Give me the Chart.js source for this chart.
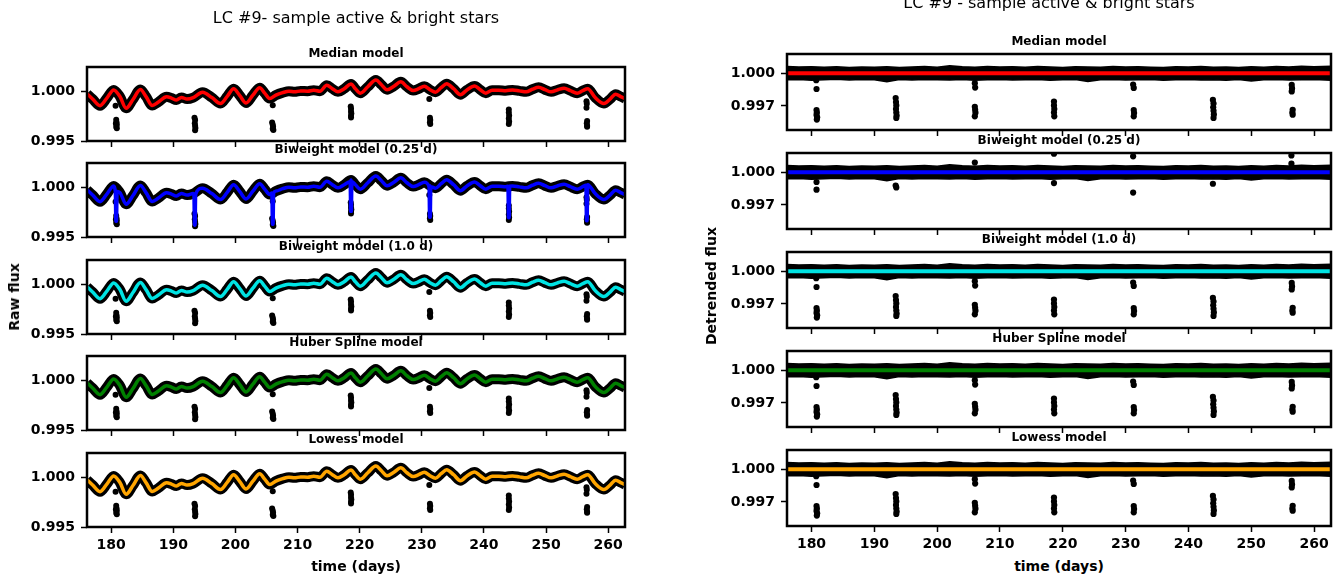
<!DOCTYPE html>
<html>
<head>
<meta charset="utf-8">
<script src="https://cdn.jsdelivr.net/npm/chart.js@4.4.0/dist/chart.umd.min.js"></script>
<style>
  html, body { margin: 0; padding: 0; background: #fff; }
  #fig { position: relative; width: 1344px; height: 581px; overflow: hidden; background: #fff; font-family: "DejaVu Sans", sans-serif; color: #000; }
  #fig canvas { position: absolute; }
  .txt { position: absolute; white-space: nowrap; line-height: 1; transform: translate(-50%, -50%); }
  .sup { font-size: 16px; font-weight: normal; }
  .ptitle { font-size: 12px; font-weight: bold; }
  .axlab { font-size: 14px; font-weight: bold; }
  .rot { transform: translate(-50%, -50%) rotate(-90deg); }
</style>
</head>
<body>
<div id="fig"></div>
<script>
// ---- time axis ----
const X_MIN = 176.1;
const X_MAX = 262.7;
const xTickValues = [180, 190, 200, 210, 220, 230, 240, 250, 260];
const rawYTicks = [0.995, 1.000];
const detrendedYTicks = [0.997, 1.000];

// ---- panel titles and model colours ----
const panelTitles = ['Median model', 'Biweight model (0.25 d)', 'Biweight model (1.0 d)', 'Huber Spline model', 'Lowess model'];
const modelColors = ['#ff0000', '#0000ff', '#00e3e3', '#008000', '#ffa500'];

// ---- raw light curve (stellar variability trend) ----
const times = [176.1, 177.0, 178.2, 179.3, 180.4, 181.4, 182.4, 183.5, 184.7, 185.6, 186.6, 187.6, 188.9, 189.7, 190.5, 191.3, 192.2, 193.2, 194.7, 196.2, 197.6, 198.7, 199.7, 200.7, 201.7, 202.8, 203.9, 204.7, 205.5, 206.5, 207.6, 208.6, 209.5, 210.5, 211.6, 212.6, 213.6, 214.7, 215.6, 216.5, 217.5, 218.6, 219.3, 220.1, 221.3, 222.6, 223.5, 224.4, 225.5, 226.6, 227.6, 228.6, 229.5, 230.4, 231.3, 232.2, 233.1, 234.0, 235.1, 236.2, 237.3, 238.5, 239.4, 240.3, 241.3, 242.4, 243.5, 244.6, 245.7, 246.8, 247.8, 248.8, 249.8, 250.8, 251.9, 252.9, 253.9, 255.0, 255.9, 256.7, 257.9, 259.3, 260.3, 261.2, 262.0, 262.7];
const rawFlux = [0.99978, 0.99925, 0.99858, 0.99935, 1.00018, 0.99950, 0.99832, 0.99920, 1.00022, 0.99950, 0.99860, 0.99895, 0.99948, 0.99935, 0.99915, 0.99942, 0.99925, 0.99940, 0.99995, 0.99940, 0.99880, 0.99955, 1.00030, 0.99960, 0.99885, 0.99965, 1.00040, 0.99985, 0.99930, 0.99965, 0.99990, 1.00005, 0.99998, 1.00008, 1.00005, 1.00015, 1.00005, 1.00065, 1.00030, 0.99998, 1.00030, 1.00078, 1.00030, 0.99985, 1.00050, 1.00118, 1.00070, 1.00020, 1.00055, 1.00100, 1.00050, 1.00012, 1.00030, 1.00055, 1.00020, 0.99995, 1.00040, 1.00080, 1.00030, 0.99970, 1.00020, 1.00058, 1.00020, 0.99985, 1.00015, 1.00015, 1.00010, 1.00018, 1.00008, 0.99998, 1.00025, 1.00045, 1.00020, 0.99998, 1.00020, 1.00035, 1.00010, 0.99985, 1.00010, 1.00030, 0.99940, 0.99880, 0.99925, 0.99975, 0.99950, 0.99930];

// ---- in-transit points, raw flux ----
const transitTimes = [180.7, 180.8, 180.85, 180.9, 180.8, 180.9, 180.75, 193.4, 193.5, 193.45, 193.5, 193.55, 193.5, 206.0, 205.9, 206.0, 206.05, 206.0, 206.1, 218.55, 218.6, 218.6, 218.65, 218.6, 218.6, 231.2, 231.3, 231.35, 231.3, 231.35, 244.0, 244.0, 244.05, 244.0, 244.05, 244.0, 256.5, 256.55, 256.5, 256.6, 256.55, 256.6, 256.6];
const transitRawFlux = [0.99858, 0.99715, 0.99690, 0.99665, 0.99645, 0.99628, 0.99678, 0.99735, 0.99712, 0.99680, 0.99655, 0.99632, 0.99608, 0.99862, 0.99688, 0.99665, 0.99645, 0.99625, 0.99612, 0.99850, 0.99828, 0.99800, 0.99778, 0.99755, 0.99738, 0.99925, 0.99735, 0.99712, 0.99690, 0.99672, 0.99818, 0.99790, 0.99758, 0.99728, 0.99698, 0.99672, 0.99902, 0.99878, 0.99838, 0.99702, 0.99680, 0.99655, 0.99645];

// ---- short-window biweight dips into the transits ----
const dipTimes = [180.8, 193.45, 206.0, 218.6, 231.3, 244.0, 256.55];
const dipBaseline = [0.99960, 0.99935, 0.99945, 1.00060, 1.00010, 1.00015, 1.00025];
const dipDepth = [0.99660, 0.99620, 0.99630, 0.99760, 0.99700, 0.99695, 0.99665];

// ---- detrended light curve: scatter envelope about unity ----
const bandTimes = [176.1, 178, 180, 182, 184, 186, 188, 190, 192, 194, 196, 198, 200, 202, 204, 206, 208, 210, 212, 214, 216, 218, 220, 222, 224, 226, 228, 230, 232, 234, 236, 238, 240, 242, 244, 246, 248, 250, 252, 254, 256, 258, 260, 262.7];
const bandUpper = [1.00060, 1.00056, 1.00058, 1.00054, 1.00058, 1.00052, 1.00056, 1.00054, 1.00058, 1.00052, 1.00056, 1.00060, 1.00054, 1.00068, 1.00058, 1.00054, 1.00060, 1.00056, 1.00058, 1.00054, 1.00060, 1.00056, 1.00052, 1.00058, 1.00056, 1.00054, 1.00060, 1.00056, 1.00058, 1.00054, 1.00052, 1.00058, 1.00056, 1.00060, 1.00054, 1.00056, 1.00052, 1.00058, 1.00054, 1.00060, 1.00056, 1.00062, 1.00058, 1.00064];
const bandLower = [0.99940, 0.99942, 0.99934, 0.99940, 0.99944, 0.99938, 0.99942, 0.99940, 0.99922, 0.99942, 0.99938, 0.99942, 0.99940, 0.99938, 0.99942, 0.99936, 0.99940, 0.99942, 0.99938, 0.99940, 0.99942, 0.99936, 0.99940, 0.99942, 0.99924, 0.99940, 0.99942, 0.99938, 0.99940, 0.99942, 0.99936, 0.99940, 0.99942, 0.99938, 0.99940, 0.99936, 0.99942, 0.99928, 0.99940, 0.99942, 0.99938, 0.99940, 0.99942, 0.99936];
const detrendedModelLevel = 1.0;

// ---- in-transit points, detrended flux ----
const detTransitTimes = [180.75, 180.8, 180.8, 180.85, 180.8, 180.9, 180.85, 193.4, 193.45, 193.5, 193.45, 193.5, 193.55, 193.5, 206.0, 206.05, 206.0, 206.05, 206.1, 206.0, 218.6, 218.6, 218.65, 218.6, 218.65, 231.2, 231.3, 231.3, 231.35, 231.3, 243.9, 244.0, 243.95, 244.0, 244.05, 244.0, 256.45, 256.5, 256.45, 256.6, 256.55, 256.6];
const detTransitFlux = [0.99935, 0.99855, 0.99662, 0.99640, 0.99618, 0.99596, 0.99575, 0.99772, 0.99735, 0.99705, 0.99672, 0.99640, 0.99612, 0.99590, 0.99908, 0.99868, 0.99692, 0.99665, 0.99638, 0.99605, 0.99740, 0.99705, 0.99672, 0.99640, 0.99605, 0.99895, 0.99865, 0.99662, 0.99635, 0.99605, 0.99755, 0.99722, 0.99688, 0.99655, 0.99622, 0.99590, 0.99892, 0.99860, 0.99833, 0.99665, 0.99640, 0.99620];

// ---- residual outliers left by the 0.25 d biweight ----
const bw25OutTimes = [180.8, 180.8, 193.4, 193.5, 206.0, 218.6, 218.6, 231.2, 231.2, 243.9, 256.4, 256.4];
const bw25OutFlux = [0.99910, 0.99840, 0.99878, 0.99860, 1.00087, 1.00168, 0.99900, 1.00145, 0.99813, 0.99894, 1.00152, 1.00077];

// ---- helpers ----
const pts = (xs, ys) => xs.map((x, i) => ({ x: x, y: ys[i] }));
const TICK_FONT = { family: 'DejaVu Sans', size: 14, weight: 'bold' };

const framePlugin = {
  id: 'frame',
  afterDraw(chart) {
    const a = chart.chartArea, ctx = chart.ctx;
    ctx.save();
    ctx.strokeStyle = '#000';
    ctx.lineWidth = 2.5;
    ctx.strokeRect(a.left, a.top, a.right - a.left, a.bottom - a.top);
    ctx.restore();
  }
};

const fig = document.getElementById('fig');

function addText(cls, text, x, y) {
  const d = document.createElement('div');
  d.className = 'txt ' + cls;
  d.textContent = text;
  d.style.left = x + 'px';
  d.style.top = y + 'px';
  fig.appendChild(d);
}

function makePanel(opt) {
  const padTop = 20, xAxisH = 30;
  const cv = document.createElement('canvas');
  const w = opt.canvasW, h = padTop + opt.areaH + xAxisH;
  cv.width = w; cv.height = h;
  cv.style.left = opt.canvasX + 'px';
  cv.style.top = (opt.areaTop - padTop) + 'px';
  cv.style.width = w + 'px'; cv.style.height = h + 'px';
  fig.appendChild(cv);

  new Chart(cv.getContext('2d'), {
    type: 'scatter',
    data: { datasets: opt.datasets },
    options: {
      responsive: false,
      animation: false,
      devicePixelRatio: 1,
      events: [],
      layout: { padding: { top: padTop, left: 0, right: opt.padRight, bottom: 0 } },
      plugins: { legend: { display: false }, tooltip: { enabled: false } },
      scales: {
        x: {
          type: 'linear', min: X_MIN, max: X_MAX,
          afterBuildTicks: s => { s.ticks = xTickValues.map(v => ({ value: v })); },
          afterFit: s => { s.height = xAxisH; },
          ticks: {
            autoSkip: false, maxRotation: 0, padding: 4, color: '#000', font: TICK_FONT,
            callback: v => opt.showX ? String(v) : ''
          },
          grid: { display: true, drawOnChartArea: false, drawTicks: true, tickLength: 6, tickWidth: 1.5, tickColor: '#000' },
          border: { display: false }
        },
        y: {
          type: 'linear', min: opt.yMin, max: opt.yMax,
          afterBuildTicks: s => { s.ticks = opt.yTicks.map(v => ({ value: v })); },
          afterFit: s => { s.width = opt.yAxisW; },
          ticks: { padding: 6, color: '#000', font: TICK_FONT, callback: v => Number(v).toFixed(3) },
          grid: { display: true, drawOnChartArea: false, drawTicks: true, tickLength: 6, tickWidth: 1.5, tickColor: '#000' },
          border: { display: false }
        }
      }
    },
    plugins: [framePlugin]
  });
}

// ---- left column: raw flux with trend models ----
const leftTops = [67, 163, 260, 356, 453];
const LEFT_H = 74;
const LEFT_AREA_L = 87, LEFT_AREA_R = 625;

function blueModel() {
  const arr = pts(times, rawFlux);
  dipTimes.forEach((t, i) => {
    arr.push({ x: t - 0.14, y: dipBaseline[i] });
    arr.push({ x: t - 0.05, y: dipDepth[i] });
    arr.push({ x: t + 0.05, y: dipDepth[i] });
    arr.push({ x: t + 0.14, y: dipBaseline[i] });
  });
  return arr.sort((a, b) => a.x - b.x);
}

for (let k = 0; k < 5; k++) {
  const modelData = (k === 1) ? blueModel() : pts(times, rawFlux);
  makePanel({
    canvasX: 0, canvasW: 640, areaTop: leftTops[k], areaH: LEFT_H,
    padRight: 640 - LEFT_AREA_R, yAxisW: LEFT_AREA_L,
    yMin: 0.995, yMax: 1.0025, yTicks: rawYTicks, showX: k === 4,
    datasets: [
      { data: modelData, showLine: true, borderColor: modelColors[k], borderWidth: 3.5, pointRadius: 0,
        cubicInterpolationMode: 'monotone', order: 0, clip: 0 },
      { data: pts(transitTimes, transitRawFlux), showLine: false, pointRadius: 3, pointBorderWidth: 0,
        backgroundColor: '#000', borderColor: '#000', order: 1, clip: 0 },
      { data: pts(times, rawFlux), showLine: true, borderColor: '#000', borderWidth: 10, pointRadius: 0,
        cubicInterpolationMode: 'monotone', order: 2, clip: 0 }
    ]
  });
  addText('ptitle', panelTitles[k], (LEFT_AREA_L + LEFT_AREA_R) / 2, leftTops[k] - 14);
}

// ---- right column: detrended flux ----
const rightTops = [54, 153, 252, 351, 450];
const RIGHT_H = 76;
const RIGHT_AREA_L = 787, RIGHT_AREA_R = 1331;

for (let k = 0; k < 5; k++) {
  const extra = (k === 1)
    ? pts(bw25OutTimes, bw25OutFlux)
    : pts(detTransitTimes, detTransitFlux);
  makePanel({
    canvasX: 690, canvasW: 654, areaTop: rightTops[k], areaH: RIGHT_H,
    padRight: 654 - (RIGHT_AREA_R - 690), yAxisW: RIGHT_AREA_L - 690,
    yMin: 0.9948, yMax: 1.00175, yTicks: detrendedYTicks, showX: k === 4,
    datasets: [
      { data: [{ x: X_MIN, y: detrendedModelLevel }, { x: X_MAX, y: detrendedModelLevel }], showLine: true,
        borderColor: modelColors[k], borderWidth: 4, pointRadius: 0, order: 0, clip: 0 },
      { data: extra, showLine: false, pointRadius: 3.1, pointBorderWidth: 0,
        backgroundColor: '#000', borderColor: '#000', order: 1, clip: 0 },
      { data: pts(bandTimes, bandUpper), showLine: true, borderColor: '#000', borderWidth: 1.5, pointRadius: 0,
        fill: '+1', backgroundColor: '#000', order: 2, clip: 0 },
      { data: pts(bandTimes, bandLower), showLine: true, borderColor: '#000', borderWidth: 1.5, pointRadius: 0,
        order: 3, clip: 0 }
    ]
  });
  addText('ptitle', panelTitles[k], (RIGHT_AREA_L + RIGHT_AREA_R) / 2, rightTops[k] - 13);
}

// ---- figure titles and axis labels ----
addText('sup', 'LC #9- sample active & bright stars', 356, 18);
addText('sup', 'LC #9 - sample active & bright stars', 1049, 3);
addText('axlab rot', 'Raw flux', 14, 297);
addText('axlab rot', 'Detrended flux', 711, 286);
addText('axlab', 'time (days)', (LEFT_AREA_L + LEFT_AREA_R) / 2, 566);
addText('axlab', 'time (days)', (RIGHT_AREA_L + RIGHT_AREA_R) / 2, 566);
</script>
</body>
</html>
